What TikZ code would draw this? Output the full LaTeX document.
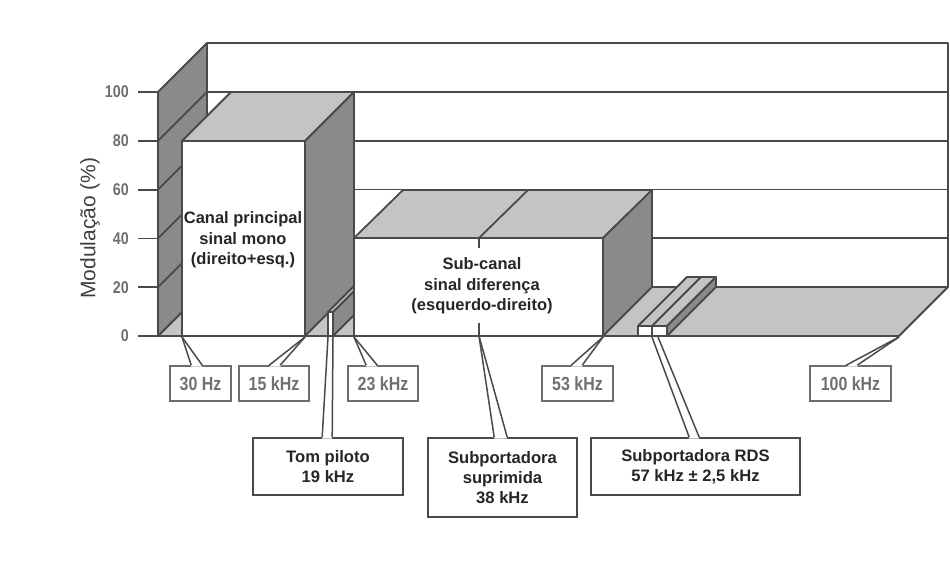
\documentclass[tikz,border=0pt]{standalone}
\usepackage{fontspec}
\setmainfont{Liberation Sans}
\newfontfamily\condf[FakeStretch=0.84]{Liberation Sans}
\usetikzlibrary{calc}
\definecolor{edge}{HTML}{4A4A4A}
\definecolor{darkface}{HTML}{8A8A8A}
\definecolor{lightface}{HTML}{C4C4C4}
\definecolor{labelgray}{HTML}{707070}
\definecolor{axisgray}{HTML}{404040}
\tikzset{
  face/.style={draw=edge, line width=1.8pt, line join=round},
  frbox/.style={draw=edge!80, line width=1.6pt, fill=white, text=labelgray,
    font=\condf\bfseries\fontsize{19}{19}\selectfont, minimum height=35pt, inner sep=0pt},
  bigbox/.style={draw=edge, line width=1.6pt, fill=white, text=black!85,
    font=\bfseries\fontsize{16.6}{20}\selectfont, align=center, inner sep=0pt},
  barlab/.style={text=black!85, font=\bfseries\fontsize{16.5}{20.5}\selectfont, align=center, inner sep=0pt},
  ticklab/.style={text=labelgray, font=\condf\bfseries\fontsize{17}{17}\selectfont, inner sep=0pt, anchor=east},
  ptr/.style={draw=edge, line width=1.5pt}
}
\newcommand\mkptr[4]{%
  \fill[white] (#1) -- (#2) -- ($(#4)+(0,1.4)$) -- ($(#3)+(0,1.4)$) -- cycle;
  \draw[ptr] (#3) -- (#1);
  \draw[ptr] (#4) -- (#2);}
\begin{document}
\begin{tikzpicture}[x=1pt,y=-1pt]
\useasboundingbox (0,0) rectangle (950,587);
\fill[white] (0,0) rectangle (950,587);
% back wall
\draw[face, fill=white] (207,43) rectangle (948,287);
\foreach \v in {20,40,60,80} \draw[face] (207,{336-2.44*\v-49}) -- (948,{336-2.44*\v-49});
% floor
\draw[face, fill=lightface] (158,336) -- (207,287) -- (948,287) -- (899,336) -- cycle;
% left wall
\draw[face, fill=darkface] (158,336) -- (158,92) -- (207,43) -- (207,287) -- cycle;
\foreach \v in {20,40,60,80} \draw[face] (158,{336-2.44*\v}) -- (207,{336-2.44*\v-49});
% ticks and labels
\foreach \v in {0,20,...,100} {
  \draw[face] (138,{336-2.44*\v}) -- (158,{336-2.44*\v});
  \node[ticklab] (tick\v) at (129,{336-2.44*\v}) {\v};
}
\node[rotate=90, text=axisgray, font=\fontsize{21}{21}\selectfont, inner sep=0pt] (ylab) at (90,228) {Modulação (\%)};
% baseline
\draw[face] (138,336) -- (899,336);
% main channel bar
\draw[face, fill=lightface] (182,141) -- (305,141) -- (354,92) -- (231,92) -- cycle;
\draw[face, fill=darkface] (305,141) -- (354,92) -- (354,287) -- (305,336) -- cycle;
\draw[face, fill=white] (182,141) rectangle (305,336);
% pilot tone
\draw[face, fill=darkface] (333,312) -- (382,263) -- (382,287) -- (333,336) -- cycle;
\draw[face, fill=lightface] (328,312) -- (333,312) -- (382,263) -- (377,263) -- cycle;
\draw[face, fill=white] (328,312) rectangle (333,336);
% sub-channel bar
\draw[face, fill=lightface] (354,238) -- (603,238) -- (652,190) -- (403,190) -- cycle;
\draw[face, fill=darkface] (603,238) -- (652,190) -- (652,287) -- (603,336) -- cycle;
\draw[face, fill=white] (354,238) rectangle (603,336);
\draw[face] (479,238) -- (528,190);
\draw[face] (479,238) -- (479,248);
\draw[face] (479,323) -- (479,336);
% RDS
\draw[face, fill=lightface] (638,326) -- (667,326) -- (716,277) -- (687,277) -- cycle;
\draw[face] (652,326) -- (701,277);
\draw[face, fill=darkface] (667,326) -- (716,277) -- (716,287) -- (667,336) -- cycle;
\draw[face, fill=white] (638,326) rectangle (652,336);
\draw[face, fill=white] (652,326) rectangle (667,336);
% bar labels
\node[barlab] (mainlab) at (243,240) {Canal principal\\sinal mono\\(direito+esq.)};
\node[barlab] (sublab) at (482,286) {Sub-canal\\sinal diferença\\(esquerdo-direito)};
% frequency boxes
\node[frbox, minimum width=61pt] (b30) at (200.5,383.5) {30 Hz};
\node[frbox, minimum width=70pt] (b15) at (274,383.5) {15 kHz};
\node[frbox, minimum width=70pt] (b23) at (383,383.5) {23 kHz};
\node[frbox, minimum width=71pt] (b53) at (577.5,383.5) {53 kHz};
\node[frbox, minimum width=81pt] (b100) at (850.5,383.5) {100 kHz};
% big boxes
\node[bigbox, minimum width=150pt, minimum height=57pt] (bpilot) at (328,466.5) {Tom piloto\\19 kHz};
\node[bigbox, minimum width=149pt, minimum height=79pt] (bsup) at (502.5,477.5) {Subportadora\\suprimida\\38 kHz};
\node[bigbox, minimum width=209pt, minimum height=57pt] (brds) at (695.5,466.5) {Subportadora RDS\\57 kHz ± 2,5 kHz};
% pointer anchors
\coordinate (a30) at (182,337);
\coordinate (a15) at (305,337);
\coordinate (a23) at (354,337);
\coordinate (a53) at (603,337);
\coordinate (a100) at (899,337);
\coordinate (apA) at (328,337);
\coordinate (apB) at (333,337);
\coordinate (asup) at (479,336);
\coordinate (ardsA) at (652,337);
\coordinate (ardsB) at (658,337);
\mkptr{a30}{a30}{$(b30.north west)+(22,0)$}{$(b30.north west)+(33,0)$}
\mkptr{a15}{a15}{$(b15.north west)+(31,0)$}{$(b15.north west)+(42,0)$}
\mkptr{a23}{a23}{$(b23.north west)+(19,0)$}{$(b23.north west)+(30,0)$}
\mkptr{a53}{a53}{$(b53.north west)+(30,0)$}{$(b53.north west)+(41,0)$}
\mkptr{a100}{a100}{$(b100.north west)+(37,0)$}{$(b100.north west)+(48,0)$}
\mkptr{apA}{apB}{$(bpilot.north west)+(70,0)$}{$(bpilot.north west)+(80,0)$}
\mkptr{asup}{asup}{$(bsup.north west)+(67,0)$}{$(bsup.north west)+(80,0)$}
\mkptr{ardsA}{ardsB}{$(brds.north west)+(99,0)$}{$(brds.north west)+(109,0)$}
\end{tikzpicture}
\end{document}
